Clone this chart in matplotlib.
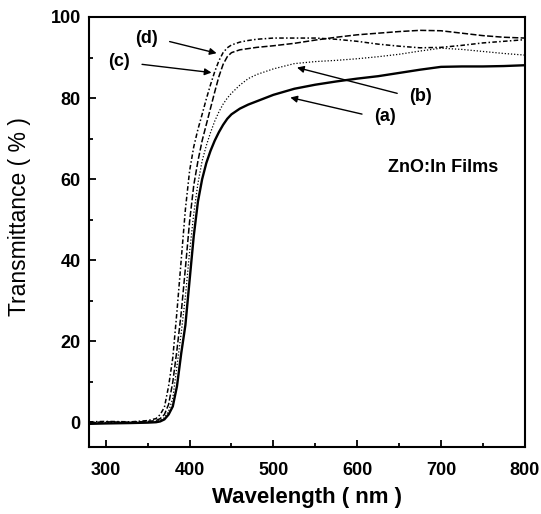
import matplotlib
matplotlib.use("Agg")
import matplotlib.pyplot as plt
from matplotlib.ticker import MultipleLocator

plt.rcParams['font.family'] = ['Liberation Sans', 'DejaVu Sans']

# wavelength grid (nm) shared by all four curves
wavelength = [280, 300, 330, 350, 360, 365, 370, 375, 380, 385, 390, 395, 400,
              405, 410, 415, 420, 425, 430, 435, 440, 445, 450, 460, 470, 480,
              500, 525, 550, 575, 600, 625, 650, 675, 700, 725, 750, 775, 800]

# transmittance (%)
trans_a = [-0.3, -0.2, -0.1, 0.0, 0.1, 0.3, 0.8, 2.0, 4.0, 9.0, 17.0, 24.0, 35.0,
           46.0, 54.5, 60.0, 64.0, 67.0, 69.5, 71.6, 73.4, 74.9, 76.0, 77.4, 78.4, 79.2,
           80.8, 82.3, 83.3, 84.1, 84.8, 85.4, 86.2, 87.0, 87.7, 87.8, 87.8, 87.9, 88.1]
trans_b = [0.0, 0.0, 0.1, 0.2, 0.3, 0.6, 1.2, 2.8, 6.0, 14.0, 22.0, 31.0, 42.0,
           51.5, 59.0, 64.5, 68.3, 71.5, 74.3, 76.6, 78.5, 80.0, 81.2, 83.2, 84.8, 85.8,
           87.2, 88.5, 89.0, 89.3, 89.7, 90.2, 90.8, 91.6, 92.3, 92.0, 91.5, 91.0, 90.6]
trans_c = [0.0, 0.2, 0.1, 0.3, 0.5, 1.0, 2.0, 4.5, 10.0, 18.0, 27.0, 38.0, 49.5,
           58.5, 64.5, 69.5, 73.5, 77.5, 81.5, 85.3, 88.3, 90.2, 91.2, 91.9, 92.2, 92.5,
           92.9, 93.5, 94.3, 95.0, 95.6, 96.0, 96.4, 96.7, 96.6, 96.0, 95.4, 95.0, 94.8]
trans_d = [0.2, 0.3, 0.2, 0.5, 1.0, 2.0, 3.8, 9.0, 16.0, 27.5, 40.0, 52.5, 62.0,
           68.0, 72.3, 76.0, 79.8, 83.3, 86.5, 89.2, 91.2, 92.4, 93.1, 93.8, 94.2, 94.5,
           94.8, 94.8, 94.8, 94.5, 94.0, 93.3, 92.8, 92.4, 92.5, 93.0, 93.6, 94.0, 94.4]

fig = plt.figure(figsize=(5.41, 5.14), dpi=100)
ax = fig.add_axes([0.1645, 0.1304, 0.8055, 0.8366])

ax.plot(wavelength, trans_a, color='black', lw=1.7, ls='-')
ax.plot(wavelength, trans_b, color='black', lw=0.9, ls=(0, (1, 1.5)))
ax.plot(wavelength, trans_c, color='black', lw=1.1, ls=(0, (4, 1.5)))
ax.plot(wavelength, trans_d, color='black', lw=1.1, ls=(0, (3, 1.5, 1, 1.5)))

# curve labels with arrows
arrow = dict(arrowstyle='-|>', color='black', lw=1.0, mutation_scale=10)
lab = dict(fontsize=13, fontweight='bold', ha='center', va='center')
ax.annotate('', xy=(435.5, 90.9), xytext=(373, 94.1), arrowprops=arrow)
ax.text(349, 94.8, '(d)', **lab)
ax.annotate('', xy=(429.5, 86.2), xytext=(340, 88.4), arrowprops=arrow)
ax.text(315.6, 88.9, '(c)', **lab)
ax.annotate('', xy=(525, 87.7), xytext=(651, 81.0), arrowprops=arrow)
ax.text(675, 80.3, '(b)', **lab)
ax.annotate('', xy=(517, 80.3), xytext=(609, 75.9), arrowprops=arrow)
ax.text(633, 75.4, '(a)', **lab)

ax.text(703, 62.8, 'ZnO:In Films', fontsize=13, fontweight='bold',
        ha='center', va='center')

ax.set_xlim(280, 800)
ax.set_ylim(-6, 100)
ax.xaxis.set_major_locator(MultipleLocator(100))
ax.xaxis.set_minor_locator(MultipleLocator(50))
ax.yaxis.set_major_locator(MultipleLocator(20))
ax.yaxis.set_minor_locator(MultipleLocator(10))
ax.tick_params(which='both', direction='in', top=False, right=False, width=1.3)
ax.tick_params(which='major', length=5, labelsize=13)
ax.tick_params(axis='x', which='major', pad=11)
ax.tick_params(axis='y', which='major', pad=6)
ax.tick_params(which='minor', length=3)
for t in ax.get_xticklabels() + ax.get_yticklabels():
    t.set_fontweight('bold')
for s in ax.spines.values():
    s.set_linewidth(1.5)

ax.set_xlabel('Wavelength ( nm )', fontsize=16, fontweight='bold')
ax.set_ylabel('Transmittance ( % )', fontsize=16.5)
ax.xaxis.set_label_coords(0.5, -0.093)
ax.yaxis.set_label_coords(-0.133, 0.535)

fig.savefig('out.png', dpi=100)
